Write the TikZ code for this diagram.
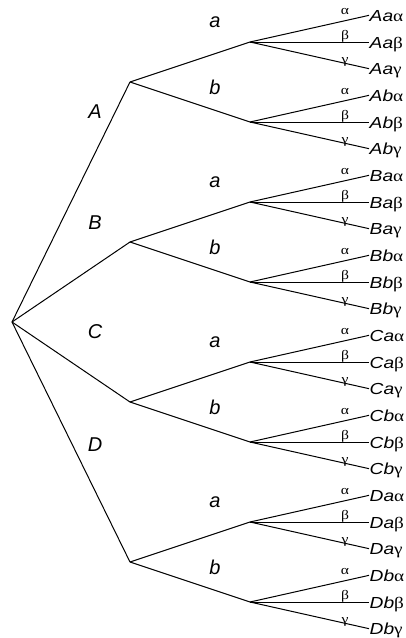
\documentclass[tikz,border=0pt]{standalone}
\usepackage{graphicx}
\usepackage{fontspec}
\setmainfont{Liberation Sans}
\newfontfamily\grk{Liberation Serif}
\newcommand{\wide}[1]{\scalebox{1.2}[1]{#1}}
\begin{document}
\begin{tikzpicture}[x=1pt,y=-1pt,
  edge/.style={line width=1pt,black},
  toplab/.style={font=\fontsize{20}{22}\selectfont\itshape,inner sep=0pt},
  midlab/.style={font=\fontsize{20}{22}\selectfont\itshape,inner sep=0pt},
  glab/.style={font=\fontsize{13}{15}\selectfont\grk,inner sep=0pt,anchor=base},
  leaflab/.style={font=\fontsize{16}{18}\selectfont,inner xsep=0.5pt,inner ysep=0pt,
    text height=11pt,text depth=0pt,anchor=west,yshift=-0.5pt}]
\useasboundingbox (0,0) rectangle (406,638);
\coordinate (r) at (12,322);
\foreach \L/\ly [count=\i from 0] in {A/112,B/223,C/332,D/445} {
  \coordinate (\L) at (130,{82+160*\i});
  \draw[edge] (r) -- (\L);
  \node[toplab] (lab\L) at (95,\ly) {\L};
  \foreach \s/\sy [count=\j from 0] in {a/-20,b/-35} {
    \coordinate (\L\s) at (250,{42+160*\i+80*\j});
    \draw[edge] (\L) -- (\L\s);
    \node[midlab] (lab\L\s) at (215,{42+160*\i+80*\j+\sy}) {\s};
    \foreach \g/\gy [count=\k] in {α/-28,β/-2.5,γ/21} {
      \coordinate (\L\s\k) at (369,{42+160*\i+80*\j+(\k-2)*80/3});
      \draw[edge] (\L\s) -- (\L\s\k);
      \node[glab] (g\L\s\k) at (345,{42+160*\i+80*\j+\gy}) {\wide{\g}};
      \node[leaflab] (t\L\s\k) at (\L\s\k) {\wide{\textit{\L\s}{\grk \g}}};
    }
  }
}
\end{tikzpicture}
\end{document}
